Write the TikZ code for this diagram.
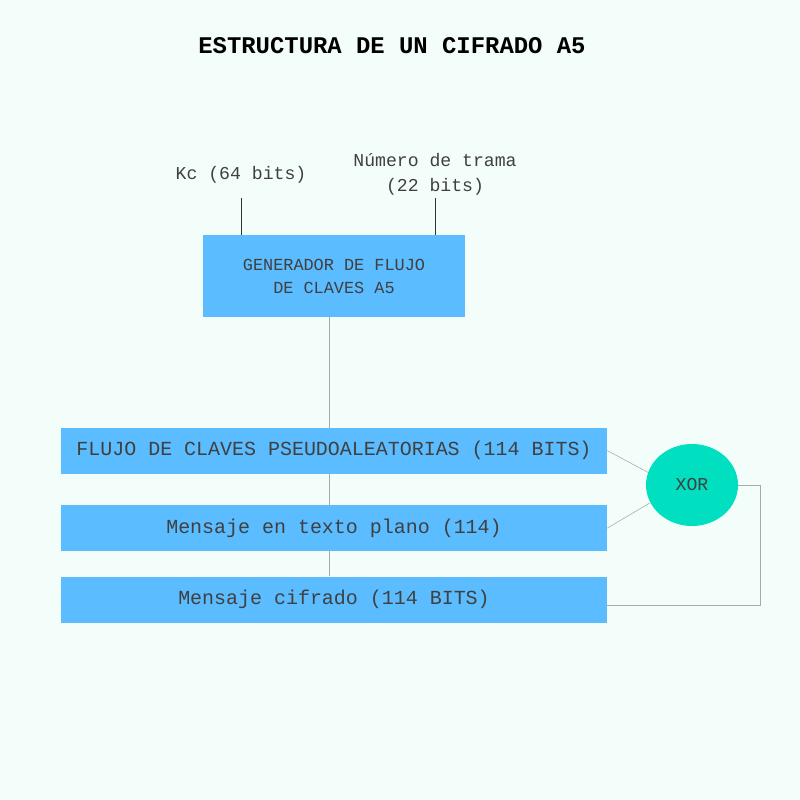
\documentclass[tikz,border=0pt]{standalone}
\usepackage{fontspec}
\setmonofont{Liberation Mono}
\usetikzlibrary{shapes.geometric, positioning, backgrounds}
\definecolor{bgmint}{HTML}{F3FDF9}
\definecolor{boxblue}{HTML}{5BBCFF}
\definecolor{xorgreen}{HTML}{00E0C0}
\definecolor{linegray}{HTML}{AAAAAA}
\tikzstyle{block} = [rectangle, fill=boxblue, text=black!75, minimum width=13.65cm, minimum height=1.15cm, font=\ttfamily\fontsize{14.2}{17}\selectfont]
\tikzstyle{genblock} = [rectangle, fill=boxblue, text=black!75, minimum width=6.55cm, minimum height=2.05cm, align=center, font=\ttfamily\fontsize{12}{16.3}\selectfont]
\tikzstyle{entrada} = [text=black!75, align=center, font=\ttfamily\fontsize{12.9}{17.7}\selectfont]
\tikzstyle{link} = [linegray, thin]
\tikzstyle{feed} = [black!80, thin]

\begin{document}
\begin{tikzpicture}

    \node (title) at (9.8,-1.15) [font=\ttfamily\bfseries\fontsize{17}{20}\selectfont] {ESTRUCTURA DE UN CIFRADO A5};
    \node (gen) at (8.35,-6.9) [genblock] {GENERADOR DE FLUJO \\ DE CLAVES A5};
    \node (kc) at (6.025,-4.375) [entrada] {Kc (64 bits)};
    \node (trama) at (10.875,-4.35) [entrada] {Número de trama \\ (22 bits)};
    \node (flujo) [block, below=2.75cm of gen] {FLUJO DE CLAVES PSEUDOALEATORIAS (114 BITS)};
    \node (plano) [block, below=0.775cm of flujo] {Mensaje en texto plano (114)};
    \node (cifrado) [block, below=0.625cm of plano] {Mensaje cifrado (114 BITS)};
    \node (xor) at (17.3,-12.125) [ellipse, fill=xorgreen, text=black!75, minimum width=2.3cm, minimum height=2.05cm, font=\ttfamily\fontsize{12.9}{15}\selectfont] {XOR};

    \begin{scope}[on background layer]
        \fill [bgmint] (0,0) rectangle (20,-20);
        % key stream runs behind the three boxes
        \draw [link] ([xshift=-0.125cm]gen.south) -- ([xshift=-0.125cm]cifrado.north);
    \end{scope}

    \draw [feed] ([yshift=-0.25cm]kc.south) -- (kc |- gen.north);
    \draw [feed] ([yshift=0.05cm]trama.south) -- (trama |- gen.north);

    \draw [link] (flujo.east) -- (xor.164);
    \draw [link] (plano.east) -- (xor.203);

    % result back to the cipher text
    \draw [link] (xor.east) -- ++(0.55,0) |- ([yshift=-0.15cm]cifrado.east);

\end{tikzpicture}
\end{document}
